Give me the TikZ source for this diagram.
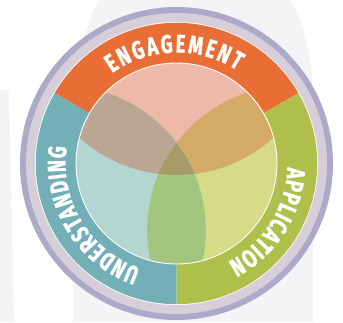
\documentclass[tikz,border=0pt]{standalone}
\usepackage{fontspec}
\newfontfamily\bandfont[FakeStretch=0.72,FakeBold=1.2]{Fira Sans}
\usetikzlibrary{decorations.text}
\definecolor{bgGray}{HTML}{F3F4F6}
\definecolor{ringDark}{HTML}{ADA9C9}
\definecolor{ringLight}{HTML}{D6CFD9}
\definecolor{bandO}{HTML}{E86E36}
\definecolor{bandT}{HTML}{72AFB6}
\definecolor{bandG}{HTML}{AEBF4B}
\definecolor{fillO}{HTML}{EEB9A8}
\definecolor{fillT}{HTML}{B4D6D1}
\definecolor{fillG}{HTML}{D6DB88}
\definecolor{fillOT}{HTML}{BAA693}
\definecolor{fillOG}{HTML}{D4AA67}
\definecolor{fillTG}{HTML}{A3C67E}
\definecolor{fillOTG}{HTML}{A59C69}
\tikzset{
  bandtext/.style={decorate, decoration={text along path, text color=white,
      text align={fit to path}, text={|\bandfont\bfseries\fontsize{25.5}{26}\selectfont|#1}}},
}
\begin{document}
\begin{tikzpicture}[x=1pt,y=1pt]
\useasboundingbox (0,0) rectangle (343,322);
\fill[white] (0,0) rectangle (343,322);
% faint background shapes
\fill[bgGray] (73,0) -- (73,172) .. controls (73,260) and (85,300) .. (100,322) -- (290,322)
   .. controls (300,310) and (313,270) .. (313,222) -- (313,0) -- cycle;
\fill[bgGray] (0,0) -- (14,0) -- (9,232) -- (0,232) -- cycle;
\coordinate (C) at (176.5,158.5);
% outer ring
\fill[ringDark] (C) circle[radius=156.5pt];
\fill[ringLight] (C) circle[radius=150.5pt];
\fill[white] (C) circle[radius=141.5pt];
% coloured band sectors
\fill[bandO] (C) -- ++(30:140.7pt) arc[start angle=30,end angle=150,radius=140.7pt] -- cycle;
\fill[bandT] (C) -- ++(150:140.7pt) arc[start angle=150,end angle=270,radius=140.7pt] -- cycle;
\fill[bandG] (C) -- ++(270:140.7pt) arc[start angle=270,end angle=390,radius=140.7pt] -- cycle;
% Venn circles
\path (C) ++(90:133pt) coordinate (cO);
\path (C) ++(210:133pt) coordinate (cT);
\path (C) ++(330:133pt) coordinate (cG);
\begin{scope}
  \clip (C) circle[radius=100.5pt];
  \fill[fillO] (cO) circle[radius=144.5pt];
  \fill[fillT] (cT) circle[radius=144.5pt];
  \fill[fillG] (cG) circle[radius=144.5pt];
  \begin{scope}
    \clip (cO) circle[radius=144.5pt];
    \fill[fillOT] (cT) circle[radius=144.5pt];
    \fill[fillOG] (cG) circle[radius=144.5pt];
  \end{scope}
  \begin{scope}
    \clip (cT) circle[radius=144.5pt];
    \fill[fillTG] (cG) circle[radius=144.5pt];
    \clip (cO) circle[radius=144.5pt];
    \fill[fillOTG] (cG) circle[radius=144.5pt];
  \end{scope}
\end{scope}
\draw[white, line width=0.9pt] (C) circle[radius=100.5pt];
% band labels
\path[bandtext=ENGAGEMENT] (C) ++(125.5:111pt) arc[start angle=125.5,end angle=57,radius=111pt];
\path[bandtext=APPLICATION] (C) ++(-2:111pt) arc[start angle=-2,end angle=-62.5,radius=111pt];
\path[bandtext=UNDERSTANDING] (C) ++(251:111pt) arc[start angle=251,end angle=171.5,radius=111pt];
\end{tikzpicture}
\end{document}
